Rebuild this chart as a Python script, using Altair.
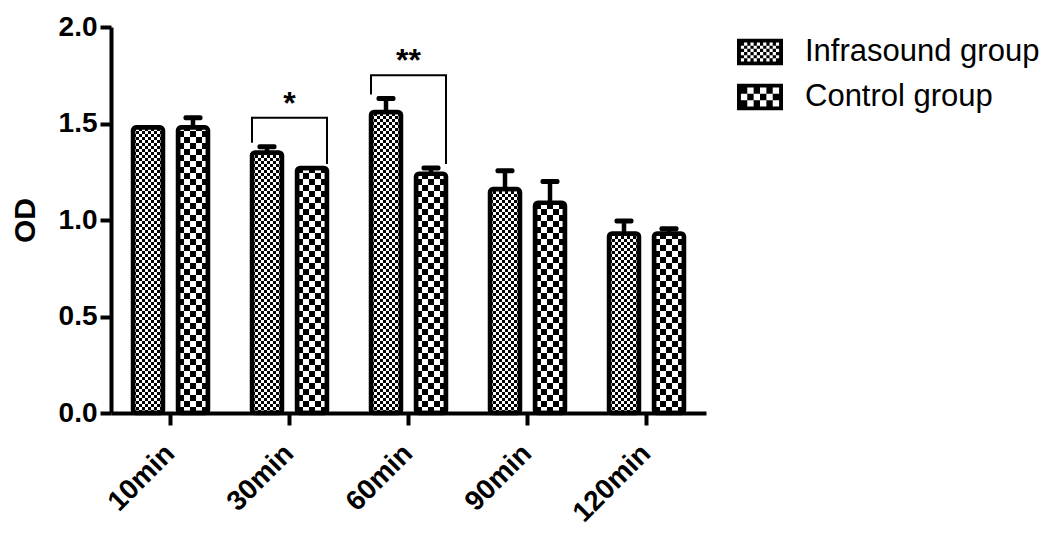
import altair as alt
import pandas as pd

# ---- data ----
categories = ["10min", "30min", "60min", "90min", "120min"]
groups = ["Infrasound group", "Control group"]
infra_mean = [1.48, 1.35, 1.56, 1.16, 0.93]
infra_err = [0.00, 0.03, 0.07, 0.095, 0.065]
control_mean = [1.48, 1.27, 1.24, 1.09, 0.93]
control_err = [0.05, 0.00, 0.03, 0.11, 0.025]

bracket_categories = ["30min", "60min"]
bracket_top = [1.53, 1.75]
bracket_left = [1.40, 1.65]
bracket_right = [1.29, 1.29]
bracket_marks = ["*", "**"]

y_ticks = [0.0, 0.5, 1.0, 1.5, 2.0]

FONT = "Liberation Sans"

# ---- tables built from the arrays ----
bars = pd.DataFrame(
    [{"cat": c, "group": groups[0], "mean": m, "upper": m + e, "err": e}
     for c, m, e in zip(categories, infra_mean, infra_err)]
    + [{"cat": c, "group": groups[1], "mean": m, "upper": m + e, "err": e}
       for c, m, e in zip(categories, control_mean, control_err)]
)

# pattern columns (3 px slots) inside each bar
slot_domain = [f"I{i}" for i in range(10)] + [f"G{i}" for i in range(5)] + [f"C{i}" for i in range(10)]
pat_rows = []
for c, m in zip(categories, infra_mean):
    for k in range(10):
        pat_rows.append({"cat": c, "slot": f"I{k}", "phase": "fA" if k % 2 == 0 else "fB", "base": 0.0, "mean": m})
for c, m in zip(categories, control_mean):
    for k in range(10):
        pat_rows.append({"cat": c, "slot": f"C{k}", "phase": "cA" if (k // 2) % 2 == 0 else "cB", "base": 0.0, "mean": m})
pattern = pd.DataFrame(pat_rows)

br_rows = []
txt_rows = []
for c, t, l, r, s in zip(bracket_categories, bracket_top, bracket_left, bracket_right, bracket_marks):
    br_rows += [
        {"cat": c, "group": groups[0], "y": l, "ord": 0, "id": c},
        {"cat": c, "group": groups[0], "y": t, "ord": 1, "id": c},
        {"cat": c, "group": groups[1], "y": t, "ord": 2, "id": c},
        {"cat": c, "group": groups[1], "y": r, "ord": 3, "id": c},
    ]
    txt_rows.append({"cat": c, "y": t, "label": s})
brackets = pd.DataFrame(br_rows)
stars = pd.DataFrame(txt_rows)


# ---- legend symbols (checker patterns as custom symbol paths) ----
def rect_path(x0, y0, x1, y1, ccw=False):
    if ccw:
        return f"M{x0:.3f},{y0:.3f}V{y1:.3f}H{x1:.3f}V{y0:.3f}Z"
    return f"M{x0:.3f},{y0:.3f}H{x1:.3f}V{y1:.3f}H{x0:.3f}Z"


def checker_symbol(cols, rows):
    W, H, B = 1.0, 0.58, 0.17
    parts = [rect_path(-W, -H, W, H), rect_path(-W + B, -H + B, W - B, H - B, ccw=True)]
    ix0, iy0 = -W + B, -H + B
    cw = 2 * (W - B) / cols
    ch = 2 * (H - B) / rows
    for r in range(rows):
        for c in range(cols):
            if (r + c) % 2 == 0:
                parts.append(rect_path(ix0 + c * cw, iy0 + r * ch, ix0 + (c + 1) * cw, iy0 + (r + 1) * ch))
    return " ".join(parts)


sym_fine = checker_symbol(12, 6)
sym_coarse = checker_symbol(6, 3)

# ---- scales ----
x_enc = alt.X(
    "cat:N",
    sort=categories,
    scale=alt.Scale(domain=categories, paddingInner=44 / 119, paddingOuter=22 / 119),
    axis=alt.Axis(
        title=None, labelAngle=-45, labelAlign="right", labelBaseline="middle",
        labelPadding=24, tickSize=12, labelFontSize=28,
    ),
)
y_scale = alt.Scale(domain=[0, 2], nice=False)
y_axis = alt.Axis(
    title="OD", values=y_ticks, format=".1f", grid=False, tickSize=11,
    labelPadding=3, labelFontSize=28, titleFontSize=30, titlePadding=18,
)
grp_offset = alt.XOffset("group:N", scale=alt.Scale(domain=groups, paddingInner=1 / 3, paddingOuter=0))

pattern_layer = alt.Chart(pattern).mark_rule(strokeWidth=3, color="black", strokeCap="butt").encode(
    x=x_enc,
    xOffset=alt.XOffset("slot:N", scale=alt.Scale(domain=slot_domain, paddingInner=0, paddingOuter=0)),
    y=alt.Y("base:Q", scale=y_scale, axis=y_axis),
    y2="mean:Q",
    strokeDash=alt.StrokeDash(
        "phase:N",
        scale=alt.Scale(domain=["fA", "fB", "cA", "cB"], range=[[3, 3], [0, 3, 3, 0], [6, 6], [0, 6, 6, 0]]),
        legend=None,
    ),
)

bar_layer = alt.Chart(bars).mark_bar(
    fillOpacity=0, stroke="black", strokeWidth=4.5, cornerRadius=3
).encode(
    x=x_enc, xOffset=grp_offset, y=alt.Y("mean:Q", scale=y_scale, axis=y_axis)
)

err_base = alt.Chart(bars).transform_filter("datum.err > 0")
err_stem = err_base.mark_rule(strokeWidth=4.5, color="black").encode(
    x=x_enc, xOffset=grp_offset, y=alt.Y("mean:Q", scale=y_scale, axis=y_axis), y2="upper:Q"
)
err_cap = err_base.mark_tick(orient="horizontal", size=19, thickness=5, color="black", opacity=1, cornerRadius=2).encode(
    x=x_enc, xOffset=grp_offset, y=alt.Y("upper:Q", scale=y_scale, axis=y_axis)
)

bracket_layer = alt.Chart(brackets).mark_line(color="black", strokeWidth=2).encode(
    x=x_enc, xOffset=grp_offset, y=alt.Y("y:Q", scale=y_scale, axis=y_axis),
    order="ord:Q", detail="id:N",
)

star_layer = alt.Chart(stars).mark_text(
    font=FONT, fontSize=32, fontWeight="bold", color="black", baseline="alphabetic", dy=-4
).encode(
    x=x_enc, y=alt.Y("y:Q", scale=y_scale, axis=y_axis), text="label:N"
)

legend_layer = alt.Chart(bars).mark_point(filled=True, opacity=0, color="black").encode(
    x=x_enc,
    y=alt.Y("mean:Q", scale=y_scale, axis=y_axis),
    shape=alt.Shape(
        "group:N",
        scale=alt.Scale(domain=groups, range=[sym_fine, sym_coarse]),
        legend=alt.Legend(
            title=None, orient="none", legendX=626, legendY=2,
            symbolSize=2116, symbolFillColor="black", symbolStrokeWidth=0,
            symbolOpacity=1, labelFont=FONT, labelFontSize=31, labelColor="black",
            labelOffset=22, rowPadding=7, padding=0, labelLimit=500,
        ),
    ),
)

chart = (
    alt.layer(pattern_layer, bar_layer, err_stem, err_cap, bracket_layer, star_layer, legend_layer)
    .resolve_scale(xOffset="independent")
    .properties(
        width=595, height=386,
        autosize=alt.AutoSizeParams(type="none"),
        padding={"left": 103, "top": 19, "right": 345, "bottom": 116},
    )
    .configure_view(stroke=None)
    .configure_axis(
        labelFont=FONT, labelFontWeight="bold", labelColor="black",
        titleFont=FONT, titleFontWeight="bold", titleColor="black",
        domainColor="black", domainWidth=4, tickColor="black", tickWidth=4,
    )
)

chart.save("out.html", embed_options={"renderer": "svg", "actions": False})
